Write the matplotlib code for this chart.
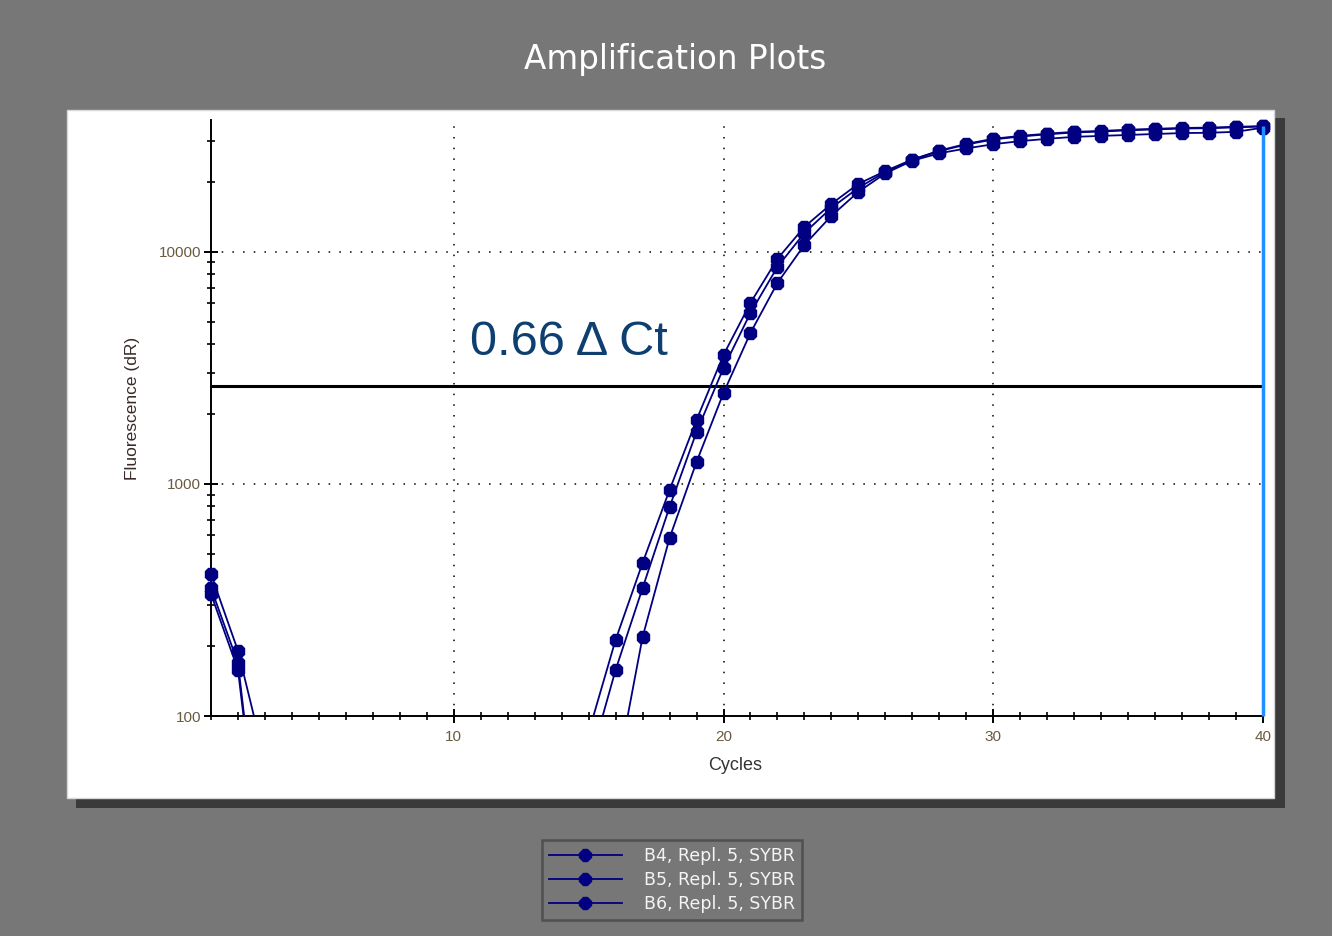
import numpy as np
import matplotlib
matplotlib.use("Agg")
import matplotlib.pyplot as plt
from matplotlib.patches import Rectangle
from matplotlib.ticker import LogLocator, NullFormatter, MultipleLocator, FixedLocator

# Du lieu doc tu hinh
cycles = np.arange(1, 41)
b4 = [409, 191, 64, 45, 40, 38, 36, 35, 34, 33, 33, 34, 36, 42, 85,
      213, 457, 942, 1888, 3597, 6026, 9333, 12818, 16100, 19640, 22300,
      25000, 27300, 29200, 30700, 31600, 32300, 32900, 33200, 33600, 33900,
      34200, 34300, 34600, 34800]
b5 = [356, 169, 17, 25, 22, 20, 20, 19, 19, 20, 21, 23, 27, 35, 61,
      158, 356, 796, 1675, 3162, 5458, 8617, 12070, 15480, 18870, 22100,
      24900, 27200, 29000, 30500, 31400, 32100, 32700, 33000, 33400, 33700,
      34000, 34100, 34400, 34700]
b6 = [336, 158, 17, 20, 18, 17, 16, 16, 16, 17, 18, 20, 22, 26, 30,
      53, 219, 585, 1244, 2467, 4477, 7350, 10720, 14300, 18140, 21800,
      24700, 26600, 27900, 29100, 30000, 30700, 31300, 31600, 31900, 32200,
      32500, 32600, 32900, 34300]
ten_mau = ["B4, Repl. 5, SYBR", "B5, Repl. 5, SYBR", "B6, Repl. 5, SYBR"]
nguong = 2640
ct_text = "0.66 \u0394 Ct"

nen = "#777777"
mau_duong = "#000080"

fig = plt.figure(figsize=(13.32, 9.36), dpi=100, facecolor=nen)

# khung trang + bong
W, H = 1332, 936
def px(x0, y0, x1, y1):
    return (x0 / W, 1 - y1 / H), (x1 - x0) / W, (y1 - y0) / H

xy, w, h = px(76, 118, 1285, 808)
fig.add_artist(Rectangle(xy, w, h, transform=fig.transFigure,
                         facecolor="#3a3a3a", edgecolor="none", zorder=-3))
xy, w, h = px(67, 110, 1274, 798)
fig.add_artist(Rectangle(xy, w, h, transform=fig.transFigure,
                         facecolor="white", edgecolor="#d8d8d8", lw=1, zorder=-2))

ax = fig.add_axes([211 / W, 220 / H, (1263 - 211) / W, (816 - 220) / H])
ax.set_facecolor("white")
ax.set_yscale("log")
ax.set_xlim(1, 40)
ax.set_ylim(100, 37000)

for s in ["top", "right"]:
    ax.spines[s].set_visible(False)
for s in ["left", "bottom"]:
    ax.spines[s].set_linewidth(1.4)

# luoi cham
luoi = (0, (1, 6))
ax.vlines([10, 20, 30], 100, 37000, colors="black", linestyles=luoi, lw=1.1, zorder=1)
ax.hlines([1000, 10000], 1, 40, colors="black", linestyles=luoi, lw=1.1, zorder=1)

# nguong
ax.hlines(nguong, 1, 40, colors="black", lw=2.2, zorder=3)

khung_cat = Rectangle((-0.03, 0), 1.06, 1.1, transform=ax.transAxes)
duong = []
for y, ten in zip([b4, b5, b6], ten_mau):
    l, = ax.plot(cycles, y, color=mau_duong, lw=1.3, marker="8", ms=10,
                 markeredgecolor=mau_duong, label=ten, zorder=4)
    l.set_clip_path(khung_cat)
    duong.append(l)

ax.vlines(40, 100, b4[-1], colors="#1e90ff", lw=2.5, zorder=6, clip_on=False)

ax.text(10.6, 3600, ct_text, fontsize=35, family="Liberation Sans",
        color="#0d3f70", ha="left", va="baseline", zorder=5)

# truc
ax.xaxis.set_major_locator(FixedLocator([10, 20, 30, 40]))
ax.xaxis.set_minor_locator(MultipleLocator(1))
ax.yaxis.set_major_locator(FixedLocator([100, 1000, 10000]))
ax.set_yticklabels(["100", "1000", "10000"])
ax.yaxis.set_minor_locator(LogLocator(base=10, subs=np.arange(2, 10)))
ax.yaxis.set_minor_formatter(NullFormatter())
ax.set_xticklabels(["10", "20", "30", "40"])

mau_so = "#6a5a40"
ax.tick_params(which="major", direction="inout", length=10, width=1.4,
               labelsize=11, labelcolor=mau_so)
ax.tick_params(axis="x", which="major", pad=5)
ax.tick_params(axis="y", which="major", pad=2)
ax.tick_params(which="minor", direction="inout", length=6, width=1.2)
for t in ax.get_xticklabels() + ax.get_yticklabels():
    t.set_family("Liberation Sans")

fig.text(735 / W, 1 - 765 / H, "Cycles", fontsize=13, family="Liberation Sans",
         color="#333333", ha="center", va="center")
fig.text(133 / W, 1 - 408 / H, "Fluorescence (dR)", fontsize=12.5,
         family="Liberation Sans", color="#3a2a2a", rotation=90,
         ha="center", va="center")

fig.text(675 / W, 1 - 60 / H, "Amplification Plots", fontsize=23.5,
         color="white", ha="center", va="center")

leg = fig.legend(handles=duong, labels=ten_mau, loc="center",
                 bbox_to_anchor=(672 / W, 1 - 880 / H),
                 prop={"family": "DejaVu Sans", "size": 12.5},
                 labelcolor="#f4f4f4", facecolor=nen, edgecolor="#505050",
                 framealpha=1, fancybox=False, handlelength=4.2,
                 handletextpad=1.3, borderpad=0.4, labelspacing=0.37,
                 markerscale=0.9)
leg.get_frame().set_linewidth(1.8)

fig.savefig("out.png", dpi=100, facecolor=nen)
